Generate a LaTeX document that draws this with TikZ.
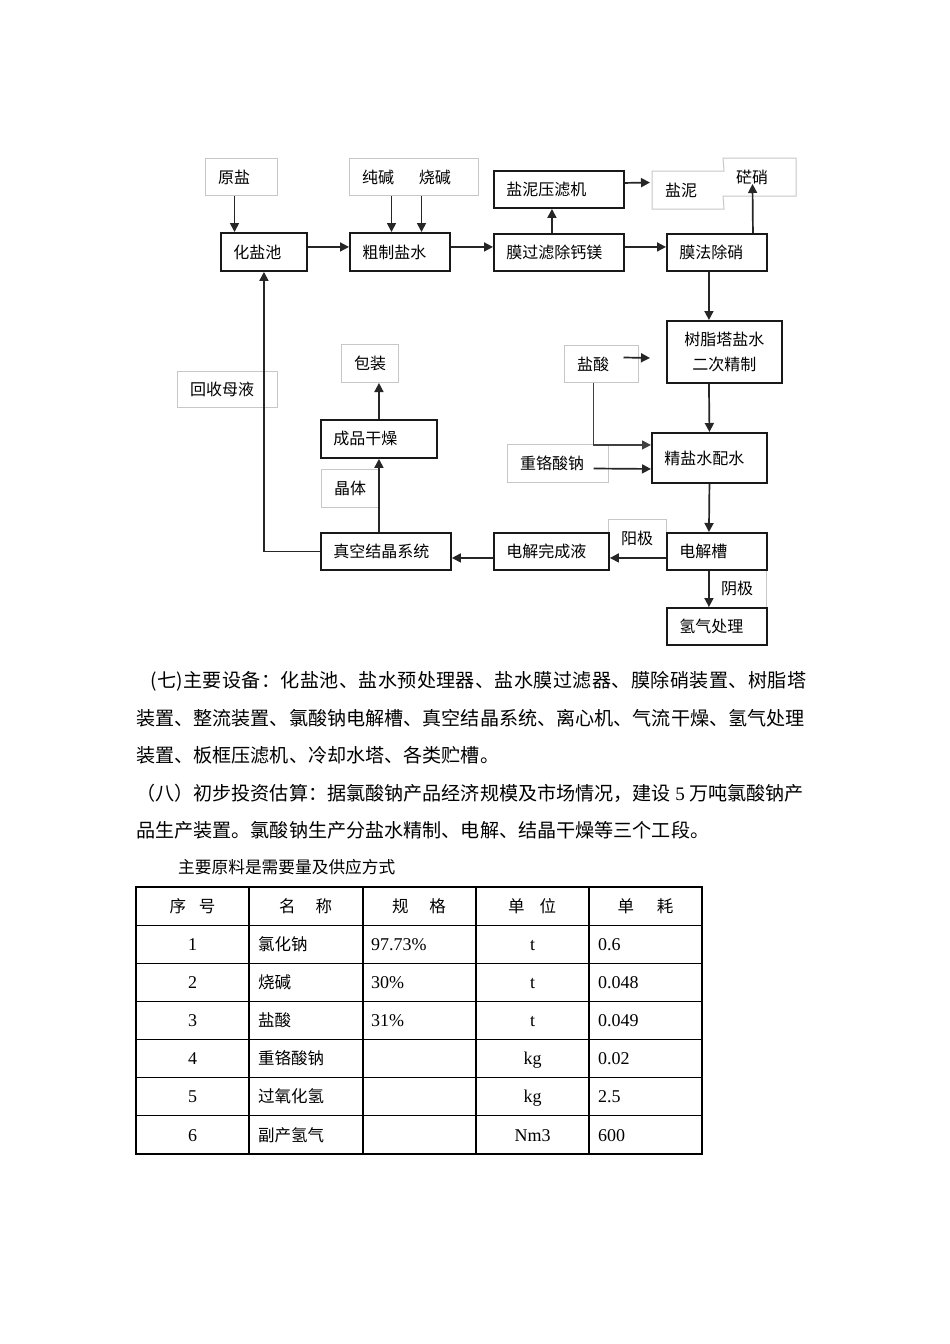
\documentclass[tikz,border=0pt]{standalone}
\usepackage{fontspec}
\setmainfont{Noto Sans CJK SC}
\newfontfamily\lat{Liberation Serif}
\usetikzlibrary{arrows.meta}
\newcommand\fc{\fontsize{16}{25}\selectfont}
\newcommand\bodyf{\fontsize{19.1}{19.1}\selectfont}
\newcommand\tabf{\fontsize{16.5}{16.5}\selectfont}
\newcommand\numf{\lat\fontsize{18}{18}\selectfont}
\def\spreadchars#1#2\relax{#1\ifx\relax#2\relax\else\hfill\spreadchars#2\relax\fi}
\newcommand\jline[2]{\makebox[#1][s]{\spreadchars#2\relax}}
\tikzset{
  blk/.style 2 args={draw=black!90, line width=1.9pt, fill=white, anchor=north west,
    inner xsep=12.5pt, inner ysep=0pt, text width=#1, minimum height=#2, align=left, font=\fc},
  gry/.style 2 args={draw=black!22, line width=1pt, anchor=north west,
    inner xsep=12.5pt, inner ysep=0pt, text width=#1, minimum height=#2, align=left, font=\fc},
  arr/.style={draw=black!85, line width=1.7pt, -{Triangle[length=9pt,width=9pt]}},
  para/.style={anchor=west, inner sep=0pt, font=\bodyf},
  cell/.style={anchor=base, inner sep=0pt, font=\tabf},
  cellw/.style={anchor=base west, inner sep=0pt, font=\tabf},
  tbl/.style={draw=black, line width=1.1pt},
}
\begin{document}
\begin{tikzpicture}[x=1pt,y=-1pt]
\fill[white] (0,0) rectangle (950,1344);
\useasboundingbox (0,0) rectangle (950,1344);

% ---------- gray (outline) boxes ----------
\node[gry={47pt}{37pt}] (yuanyan) at (205,158) {原盐};
\node[gry={104pt}{37pt}] (chunjian) at (349,158) {纯碱\hspace{25pt}烧碱};
\node[gry={46pt}{37pt}, draw=none] (yanni) at (652,171) {盐泥};
\node[gry={47pt}{37pt}, draw=none] (mangxiao) at (723,158) {硭硝};
\draw[draw=black!22, line width=1pt] (yanni.north west) -- (yanni.north east) -- (mangxiao.north west)
  -- (mangxiao.north east) -- (mangxiao.south east) -- (mangxiao.south west)
  -- (yanni.south east) -- (yanni.south west) -- cycle;
\node[gry={49pt}{37pt}] (yansuan) at (564,345) {盐酸};
\node[gry={76pt}{38pt}] (zgs) at (507,444) {重铬酸钠};
\node[gry={33pt}{38pt}] (yangji) at (608,519) {阳极};
\node[gry={33pt}{38pt}] (yinji) at (708,569) {阴极};
\node[gry={75pt}{36pt}] (huishou) at (177,371) {回收母液};
\node[gry={32pt}{38pt}] (baozhuang) at (341,344) {包装};
\node[gry={32pt}{38pt}] (jingti) at (321,469) {晶体};

% ---------- black process boxes ----------
\node[blk={61pt}{38pt}] (huayanchi) at (220,232) {化盐池};
\node[blk={75pt}{38pt}] (cuzhi) at (349,232) {粗制盐水};
\node[blk={105pt}{37pt}] (mo1) at (493,233) {膜过滤除钙镁};
\node[blk={105pt}{37pt}] (yly) at (493,170) {盐泥压滤机};
\node[blk={75pt}{37pt}] (mofa) at (666,233) {膜法除硝};
\node[blk={90pt}{62pt}, align=center] (shuzhi) at (666,320) {树脂塔盐水\\二次精制};
\node[blk={90pt}{50pt}] (jingyan) at (651,432) {精盐水配水};
\node[blk={75pt}{37pt}] (djc) at (666,532) {电解槽};
\node[blk={75pt}{37pt}] (qq) at (666,607) {氢气处理};
\node[blk={90pt}{37pt}] (djwc) at (493,532) {电解完成液};
\node[blk={105pt}{37pt}] (zk) at (320,532) {真空结晶系统};
\node[blk={91pt}{38pt}] (cp) at (320,419) {成品干燥};

% ---------- connectors ----------
\coordinate (p1) at ([xshift=-7pt]yuanyan.south);
\draw[arr] (p1) -- (p1 |- huayanchi.north);
\coordinate (p2) at ([xshift=-22.5pt]chunjian.south);
\draw[arr] (p2) -- (p2 |- cuzhi.north);
\coordinate (p3) at ([xshift=7.5pt]chunjian.south);
\draw[arr] (p3) -- (p3 |- cuzhi.north);
\draw[arr] ([yshift=5pt]huayanchi.east) -- ([yshift=5pt]cuzhi.west);
\draw[arr] ([yshift=5pt]cuzhi.east) -- ([yshift=5.5pt]mo1.west);
\draw[arr] ([xshift=-7pt]mo1.north) -- ([xshift=-7pt]yly.south);
\draw[arr] ([yshift=6.5pt]yly.east) -- ([xshift=-2pt,yshift=7.5pt]yanni.west);
\draw[arr] ([yshift=5.5pt]mo1.east) -- ([yshift=5.5pt]mofa.west);
\draw[arr] ([xshift=36pt]mofa.north) -- ([xshift=-7pt,yshift=12pt]mangxiao.south);
\draw[arr] ([xshift=-8pt]mofa.south) -- ([xshift=-15.5pt]shuzhi.north);
\draw[arr] ([xshift=22pt,yshift=6.5pt]yansuan.center) -- ([xshift=-16pt,yshift=-6pt]shuzhi.west);
\draw[arr, draw=black!75, line width=1.4pt] ([xshift=-8pt]yansuan.south) |- ([yshift=13pt]jingyan.west);
\draw[arr] ([xshift=35.5pt,yshift=-5pt]zgs.center) -- ([yshift=-11pt]jingyan.west);
\draw[arr] ([xshift=-15.5pt]shuzhi.south) -- (jingyan.north);
\draw[arr] (jingyan.south) -- ([xshift=-8pt]djc.north);
\draw[arr] ([yshift=-6.5pt]djc.west) -- ([yshift=-6.5pt]djwc.east);
\draw[arr] ([yshift=-6.5pt]djwc.west) -- ([yshift=-6.5pt]zk.east);
\draw[arr] ([xshift=-8pt]djc.south) -- ([xshift=-8pt]qq.north);
\draw[arr] (zk.west) -| (huayanchi.south);
\draw[arr] ([xshift=-7pt]zk.north) -- (cp.south);
\draw[arr] (cp.north) -- (cp.north |- baozhuang.south);

% ---------- paragraphs ----------
\node[para] (l1) at (150,681) {\jline{656pt}{(七)主要设备：化盐池、盐水预处理器、盐水膜过滤器、膜除硝装置、树脂塔}};
\node[para] (l2) at (136,718) {装置、整流装置、氯酸钠电解槽、真空结晶系统、离心机、气流干燥、氢气处理};
\node[para] (l3) at (136,755) {装置、板框压滤机、冷却水塔、各类贮槽。};
\node[para] (l4) at (136,793) {（八）初步投资估算：据氯酸钠产品经济规模及市场情况，建设 {\lat 5} 万吨氯酸钠产};
\node[para] (l5) at (136,830) {品生产装置。氯酸钠生产分盐水精制、电解、结晶干燥等三个工段。};
\node[para, font=\fontsize{16.7}{16.7}\selectfont] (l6) at (178,867) {主要原料是需要量及供应方式};

% ---------- table ----------
\draw[tbl] (136,887) rectangle (702,1154);
\foreach \yy in {925.1,963.3,1001.4,1039.6,1077.7,1115.9} \draw[tbl] (136,\yy) -- (702,\yy);
\foreach \xx in {249,363,476,589} \draw[tbl] (\xx,887) -- (\xx,1154);

\node[cell] (h1) at (192.5,912) {序\hspace{13pt}号};
\node[cell] (h2) at (305.5,912) {名\hspace{20pt}称};
\node[cell] (h3) at (419,912) {规\hspace{21pt}格};
\node[cell] (h4) at (532,912) {单\hspace{15pt}位};
\node[cell] (h5) at (645.5,912) {单\hspace{23pt}耗};

\node[cell, font=\numf] (r1a) at (192.5,950) {1};
\node[cellw] (r1b) at (258,950) {氯化钠};
\node[cellw, font=\numf] (r1c) at (371,950) {97.73\%};
\node[cell, font=\numf] (r1d) at (532.5,950) {t};
\node[cellw, font=\numf] (r1e) at (598,950) {0.6};

\node[cell, font=\numf] (r2a) at (192.5,988.4) {2};
\node[cellw] (r2b) at (258,988.4) {烧碱};
\node[cellw, font=\numf] (r2c) at (371,988.4) {30\%};
\node[cell, font=\numf] (r2d) at (532.5,988.4) {t};
\node[cellw, font=\numf] (r2e) at (598,988.4) {0.048};

\node[cell, font=\numf] (r3a) at (192.5,1026.5) {3};
\node[cellw] (r3b) at (258,1026.5) {盐酸};
\node[cellw, font=\numf] (r3c) at (371,1026.5) {31\%};
\node[cell, font=\numf] (r3d) at (532.5,1026.5) {t};
\node[cellw, font=\numf] (r3e) at (598,1026.5) {0.049};

\node[cell, font=\numf] (r4a) at (192.5,1064.7) {4};
\node[cellw] (r4b) at (258,1064.7) {重铬酸钠};
\node[cell, font=\numf] (r4d) at (532.5,1064.7) {kg};
\node[cellw, font=\numf] (r4e) at (598,1064.7) {0.02};

\node[cell, font=\numf] (r5a) at (192.5,1102.8) {5};
\node[cellw] (r5b) at (258,1102.8) {过氧化氢};
\node[cell, font=\numf] (r5d) at (532.5,1102.8) {kg};
\node[cellw, font=\numf] (r5e) at (598,1102.8) {2.5};

\node[cell, font=\numf] (r6a) at (192.5,1141) {6};
\node[cellw] (r6b) at (258,1141) {副产氢气};
\node[cell, font=\numf] (r6d) at (532.5,1141) {Nm3};
\node[cellw, font=\numf] (r6e) at (598,1141) {600};
\end{tikzpicture}
\end{document}
